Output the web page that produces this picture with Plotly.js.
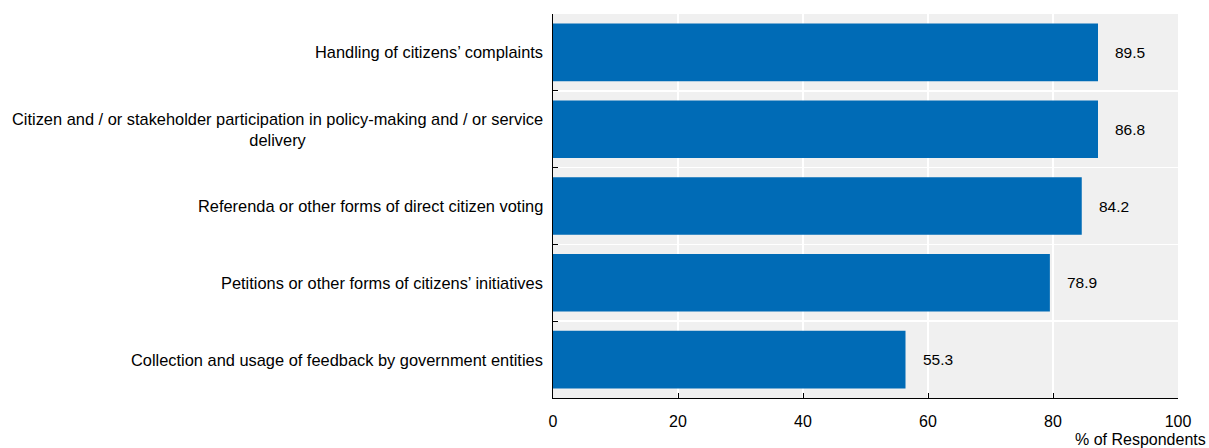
<!DOCTYPE html>
<html>
<head>
<meta charset="utf-8">
<script src="https://cdn.plot.ly/plotly-3.0.1.min.js"></script>
<style>html,body{margin:0;padding:0;background:#fff;}#chart{width:1209px;height:448px;}</style>
</head>
<body>
<div id="chart"></div>
<script>
// Categories, top to bottom
const categories = [
  "Handling of citizens’ complaints",
  "Citizen and / or stakeholder participation in policy-making and / or service<br>delivery",
  "Referenda or other forms of direct citizen voting",
  "Petitions or other forms of citizens’ initiatives",
  "Collection and usage of feedback by government entities"
];
// Bar lengths as drawn in the reference
const barValues = [87.2, 87.2, 84.6, 79.5, 56.4];
// Value labels as printed in the reference
const valueLabels = ["89.5", "86.8", "84.2", "78.9", "55.3"];
const xTickVals = [0, 20, 40, 60, 80, 100];
const xTickText = ["0", "20", "40", "60", "80", "100"];
const xAxisTitle = "% of Respondents";

const FONT = "'Liberation Sans Narrow', 'Arial Narrow', 'Liberation Sans', Arial, sans-serif";

const trace = {
  type: "bar",
  orientation: "h",
  y: categories,
  x: barValues,
  marker: {color: "#006BB6"},
  hoverinfo: "x+y"
};

const annotations = [];
categories.forEach((c, i) => {
  annotations.push({
    xref: "paper", yref: "y", x: 0, y: c, xanchor: "right", yanchor: "middle",
    xshift: -8, text: c, showarrow: false, align: "center",
    font: {family: FONT, size: 16.4, color: "#000"}
  });
  annotations.push({
    xref: "x", yref: "y", x: barValues[i], y: c, xanchor: "left", yanchor: "middle",
    xshift: 15, text: valueLabels[i], showarrow: false,
    font: {family: FONT, size: 15.5, color: "#000"}
  });
});
annotations.push({
  xref: "paper", yref: "paper", x: 1, y: 0, xanchor: "right", yanchor: "top",
  xshift: 30, yshift: -31, text: xAxisTitle, showarrow: false,
  font: {family: FONT, size: 16, color: "#000"}
});

const layout = {
  width: 1209, height: 448,
  margin: {l: 553, r: 31, t: 14, b: 50},
  paper_bgcolor: "#ffffff",
  plot_bgcolor: "#f0f0f0",
  bargap: 0.25,
  showlegend: false,
  xaxis: {
    range: [0, 100], tickvals: xTickVals, ticktext: xTickText,
    ticks: "inside", ticklen: 5, tickcolor: "#000", tickwidth: 1,
    ticklabelstandoff: 9,
    showline: true, linecolor: "#000", linewidth: 1,
    showgrid: true, gridcolor: "#ffffff", gridwidth: 1.5,
    zeroline: false, fixedrange: true,
    tickfont: {family: FONT, size: 16, color: "#000"}
  },
  yaxis: {
    type: "category", autorange: "reversed",
    showticklabels: false,
    tickson: "boundaries", ticks: "inside", ticklen: 5, tickcolor: "#000",
    showline: true, linecolor: "#000", linewidth: 1,
    showgrid: true, gridcolor: "#ffffff", gridwidth: 1.5,
    zeroline: false, fixedrange: true
  },
  annotations: annotations
};

Plotly.newPlot("chart", [trace], layout, {displayModeBar: false, staticPlot: true});
</script>
</body>
</html>
